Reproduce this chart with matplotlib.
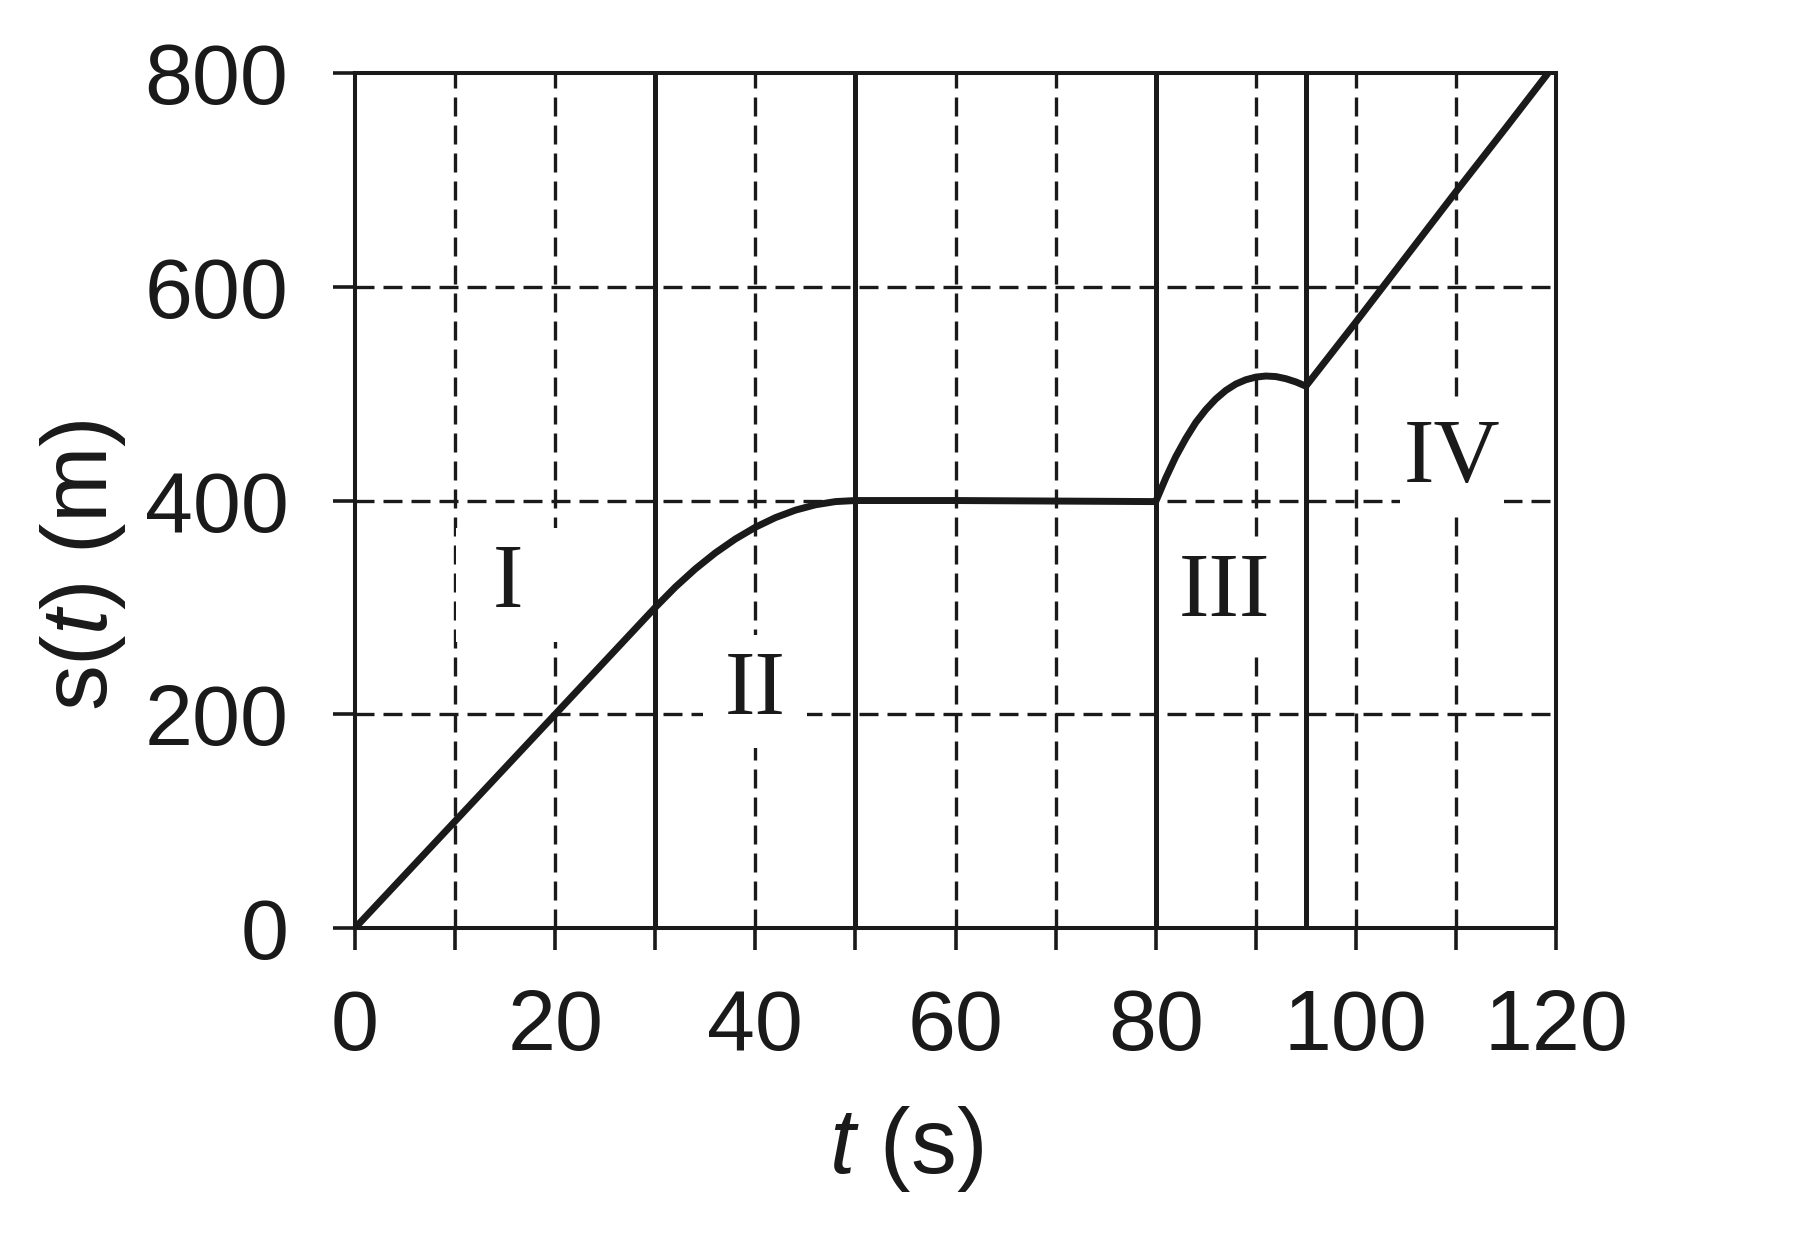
import matplotlib.pyplot as plt
from matplotlib.patches import Rectangle

plt.rcParams['font.family'] = 'Liberation Sans'
plt.rcParams['mathtext.fontset'] = 'custom'
plt.rcParams['mathtext.rm'] = 'Liberation Sans'
plt.rcParams['mathtext.it'] = 'Liberation Sans:italic'

# s(t), piece by piece
t_I = [0, 10, 20, 30]
s_I = [0, 100, 200, 300]
t_II = [30, 32, 34, 36, 38, 40, 42, 44, 46, 48, 50]
s_II = [300, 319, 336, 351, 364, 375, 384, 391, 396, 399, 400]
t_flat = [50, 60, 70, 80]
s_flat = [400.5, 400, 399.5, 399]
t_III = [80, 81, 82, 83, 84, 85, 86, 87, 88, 89, 90, 91, 92, 93, 94, 95]
s_III = [399, 421, 441, 458, 473, 485, 495, 503, 509, 513, 515.5, 516.5, 516, 514, 511, 507]
t_IV = [95, 100, 105, 110, 115, 119.2]
s_IV = [507, 567, 628, 689, 749, 800]

boundaries = [30, 50, 80, 95]
dashed_x = [10, 20, 40, 60, 70, 90, 100, 110]
dashed_y = [200, 400, 600]
region_names = ['I', 'II', 'III', 'IV']
region_t = [15.3, 40, 86.9, 109.6]
region_s = [321, 221, 313, 438]

ink = '#1a1a1a'

fig = plt.figure(figsize=(18.17, 12.51), dpi=100)
ax = fig.add_axes([0.1954, 0.2582, 0.661, 0.6834])

dash = (5.7, 2.7)
for x in dashed_x:
    ax.axvline(x, color=ink, lw=2.4, dashes=dash, zorder=1)
for y in dashed_y:
    ax.axhline(y, color=ink, lw=2.4, dashes=dash, zorder=1)

# white patches behind the region names
for name, tx, sy in zip(region_names, region_t, region_s):
    ax.add_patch(Rectangle((tx - 5.2, sy - 53), 10.4, 106, facecolor='white',
                           edgecolor='none', zorder=2))
    ax.text(tx, sy, name, family='Liberation Serif', fontsize=66,
            ha='center', va='center', color=ink, zorder=4)

for x in boundaries:
    ax.axvline(x, color=ink, lw=3.6, zorder=3)

t_all = t_I + t_II[1:] + t_flat[1:] + t_III[1:]
s_all = s_I + s_II[1:] + s_flat[1:] + s_III[1:]
ax.plot(t_all, s_all, color=ink, lw=5, zorder=3, solid_capstyle='butt')
ax.plot(t_IV, s_IV, color=ink, lw=5, zorder=3, solid_capstyle='butt')

ax.set_xlim(0, 120)
ax.set_ylim(0, 800)
ax.set_xticks(range(0, 121, 10))
ax.set_xticklabels([str(v) if v % 20 == 0 else '' for v in range(0, 121, 10)])
ax.set_yticks([0, 200, 400, 600, 800])
ax.tick_params(axis='both', direction='out', length=16, width=2.6, color=ink,
               labelsize=62, labelcolor=ink)
ax.tick_params(axis='x', pad=27)
ax.tick_params(axis='y', pad=32)
for sp in ax.spines.values():
    sp.set_linewidth(2.9)
    sp.set_color(ink)
    sp.set_zorder(3)

fig.text(83 / 1817, 1 - 565 / 1251, r's($t$) (m)', rotation=90, fontsize=66,
         ha='center', va='center', color=ink)
fig.text(906 / 1817, 1 - 1149 / 1251, r'$t$ (s)', fontsize=66,
         ha='center', va='center', color=ink)

fig.savefig('out.png', dpi=100)
